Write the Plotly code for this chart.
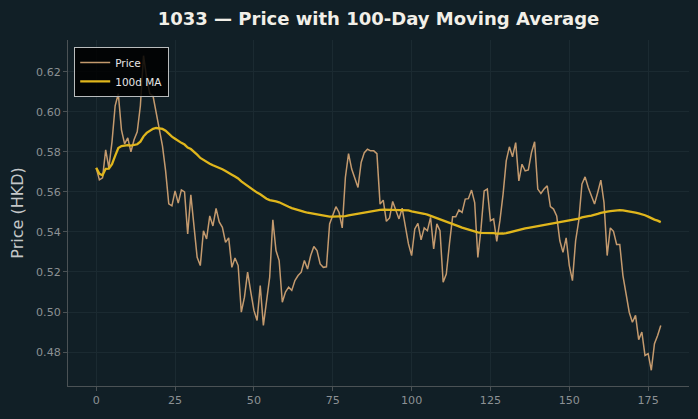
import pandas as pd
import plotly.graph_objects as go

# ---- data ----
days = list(range(180))
price = [
    0.572, 0.566, 0.567, 0.581, 0.572, 0.585, 0.603, 0.609, 0.591, 0.584,
    0.587, 0.580, 0.586, 0.590, 0.603, 0.628, 0.617, 0.609, 0.608, 0.600,
    0.591, 0.583, 0.5705, 0.554, 0.553, 0.5605, 0.5544, 0.561, 0.560, 0.539,
    0.5585, 0.543, 0.5273, 0.5232, 0.5406, 0.5365, 0.548, 0.543, 0.5517, 0.545,
    0.5423, 0.5348, 0.537, 0.5223, 0.527, 0.5232, 0.4999, 0.5074, 0.5199, 0.510,
    0.5008, 0.4958, 0.5132, 0.4933, 0.5041, 0.5174, 0.546, 0.5307, 0.5257, 0.5049,
    0.510, 0.5124, 0.5108, 0.5157, 0.5182, 0.5199, 0.5257, 0.5215, 0.5282, 0.5327,
    0.5307, 0.524, 0.5223, 0.5226, 0.544, 0.548, 0.5526, 0.5497, 0.542, 0.5672,
    0.5791, 0.5714, 0.5672, 0.5622, 0.5747, 0.5796, 0.5813, 0.5805, 0.5805, 0.5791,
    0.5539, 0.5559, 0.5453, 0.547, 0.5552, 0.551, 0.5465, 0.5519, 0.5423, 0.534,
    0.5282, 0.5415, 0.5443, 0.536, 0.542, 0.5406, 0.5473, 0.5315, 0.544, 0.5406,
    0.5149, 0.519, 0.534, 0.5476, 0.5476, 0.551, 0.5497, 0.5564, 0.5566, 0.5609,
    0.5547, 0.5273, 0.5415, 0.5605, 0.5614, 0.5456, 0.5465, 0.5353, 0.5456, 0.5589,
    0.5755, 0.5825, 0.5775, 0.5846, 0.5655, 0.5738, 0.5705, 0.571, 0.5796, 0.585,
    0.5614, 0.5592, 0.5614, 0.563, 0.5526, 0.5514, 0.548, 0.5356, 0.5298, 0.537,
    0.5232, 0.5157, 0.5356, 0.5456, 0.5639, 0.5675, 0.5622, 0.5581, 0.5539, 0.5597,
    0.5659, 0.5547, 0.5282, 0.542, 0.5403, 0.5337, 0.5337, 0.5182, 0.5091, 0.4999,
    0.4949, 0.4983, 0.4862, 0.49, 0.4783, 0.4792, 0.4709, 0.4842, 0.4883, 0.4933,
]
ma_window = 100
ma = pd.Series(price).rolling(ma_window, min_periods=1).mean().tolist()

x_ticks = [0, 25, 50, 75, 100, 125, 150, 175]
y_ticks = [0.48, 0.50, 0.52, 0.54, 0.56, 0.58, 0.60, 0.62]
y_tick_text = [f"{v:.2f}" for v in y_ticks]

title_text = "1033 — Price with 100-Day Moving Average"
y_title = "Price (HKD)"

# ---- styling ----
BG = "#111f26"
GRID = "#1b2a31"
SPINE = "#4b5255"
TICK_FONT = "#8c9194"

allv = price + ma
lo, hi = min(allv), max(allv)
pad = (hi - lo) * 0.05
xpad = (days[-1] - days[0]) * 0.05

fig = go.Figure()
fig.add_trace(go.Scatter(x=days, y=price, mode="lines", name="Price",
                         line=dict(color="#c49a6e", width=1.5)))
fig.add_trace(go.Scatter(x=days, y=ma, mode="lines", name="100d MA",
                         line=dict(color="#e0b61c", width=2.3)))

fig.update_layout(
    width=698, height=419,
    paper_bgcolor=BG, plot_bgcolor=BG,
    margin=dict(l=68, r=9, t=40, b=33),
    font=dict(family="DejaVu Sans", color=TICK_FONT, size=11.1),
    title=dict(text=f"<b>{title_text}</b>", x=(68 + 689) / 2 / 698, xanchor="center",
               y=1 - 19 / 419, yanchor="middle",
               font=dict(size=18, color="#f2efe8", family="DejaVu Sans")),
    showlegend=True,
    legend=dict(x=0.01, y=0.98, xanchor="left", yanchor="top",
                bgcolor="rgba(0,0,0,0.85)", bordercolor="#b9bcbd", borderwidth=1,
                font=dict(size=10.5, color="#e6e6e6", family="DejaVu Sans"),
                itemwidth=30, tracegroupgap=0),
)
fig.update_xaxes(range=[days[0] - xpad, days[-1] + xpad],
                 tickvals=x_ticks, ticktext=[str(t) for t in x_ticks],
                 showgrid=True, gridcolor=GRID, gridwidth=1, zeroline=False,
                 showline=True, linecolor=SPINE, linewidth=1,
                 ticks="outside", ticklen=4, tickcolor=SPINE, tickwidth=1,
                 tickfont=dict(size=11.1, color=TICK_FONT))
fig.update_yaxes(range=[lo - pad, hi + pad],
                 tickvals=y_ticks, ticktext=y_tick_text,
                 showgrid=True, gridcolor=GRID, gridwidth=1, zeroline=False,
                 showline=True, linecolor=SPINE, linewidth=1,
                 ticks="outside", ticklen=4, tickcolor=SPINE, tickwidth=1,
                 tickfont=dict(size=11.1, color=TICK_FONT),
                 title=dict(text=y_title, font=dict(size=16, color="#c4c7c8"), standoff=8))

fig.write_html("out.html")
